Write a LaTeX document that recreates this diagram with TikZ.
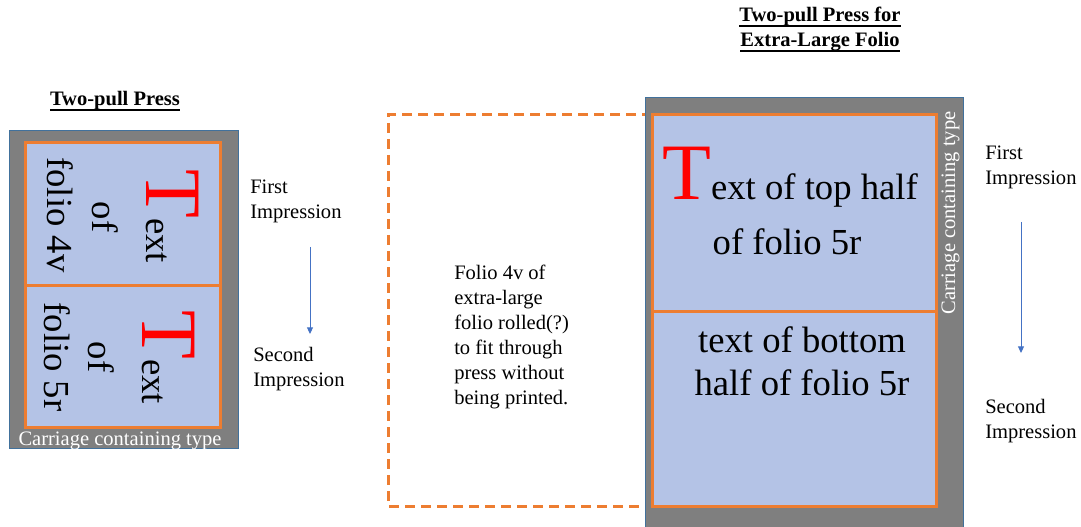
\documentclass[tikz,border=0pt]{standalone}
\usepackage{fontspec}
\setmainfont{Liberation Serif}
\usetikzlibrary{arrows.meta}
\definecolor{cgray}{HTML}{7F7F7F}
\definecolor{cborder}{HTML}{41719C}
\definecolor{cblue}{HTML}{B4C3E6}
\definecolor{corange}{HTML}{ED7D31}
\definecolor{carrow}{HTML}{4472C4}
\definecolor{cred}{HTML}{FF0000}
\newcommand\dropT{{\fontsize{60}{60}\selectfont\color{cred}T}}
\newcommand\ulbox[1]{\setbox0=\hbox{#1}\rlap{\rule[-3.8pt]{\wd0}{1.3pt}}\box0}
\begin{document}
\begin{tikzpicture}[x=0.75pt,y=-0.75pt,
  lbl/.style={inner sep=0pt, font=\fontsize{15.4}{18.75}\selectfont},
  ttl/.style={inner sep=0pt, font=\fontsize{15.4}{18.75}\selectfont\bfseries},
  bigtxt/.style={inner sep=0pt, font=\fontsize{27.5}{33}\selectfont},
  carriage/.style={fill=cgray, draw=cborder, line width=0.75pt},
  pagebox/.style={fill=cblue, draw=corange, line width=2.25pt},
  rolled/.style={draw=corange, line width=2.25pt, dash pattern=on 7.5pt off 4.5pt},
  flow/.style={draw=carrow, line width=0.75pt, -{Triangle[length=5pt,width=4.5pt]}},
  ctext/.style={inner sep=0pt, text=white, font=\fontsize{15.4}{18.75}\selectfont},
]
\useasboundingbox (0,0) rectangle (1081,527);
% ---------- left press ----------
\node[ttl, anchor=base] (t1) at (115,106) {\ulbox{Two-pull Press}};
\draw[carriage] (9,131) rectangle (238,448);
\draw[pagebox] (25,143) rectangle (220,285);
\draw[pagebox] (25,285) rectangle (220,427);
\node[bigtxt, rotate=-90, anchor=base] (l1a) at (146,216) {\dropT ext};
\node[bigtxt, rotate=-90, anchor=base] (l1b) at (92,217) {of};
\node[bigtxt, rotate=-90, anchor=base] (l1c) at (47,215) {folio 4v};
\node[bigtxt, rotate=-90, anchor=base] (l2a) at (142,357) {\dropT ext};
\node[bigtxt, rotate=-90, anchor=base] (l2b) at (88,357) {of};
\node[bigtxt, rotate=-90, anchor=base] (l2c) at (44,357) {folio 5r};
\node[ctext, anchor=base] (lc) at (120,445) {Carriage containing type};
\node[lbl, anchor=base west] (lf1) at (250,194) {First};
\node[lbl, anchor=base west] (lf2) at (250,219) {Impression};
\node[lbl, anchor=base west] (ls1) at (253,361) {Second};
\node[lbl, anchor=base west] (ls2) at (253,386) {Impression};
\coordinate (la1) at (310,247);
\coordinate (la2) at (310,334);
\draw[flow] (la1) -- (la2);
% ---------- middle: rolled folio ----------
\draw[rolled] (652,115) -- (388,115) -- (388,506) -- (652,506);
\node[lbl, anchor=base west] (m1) at (454,279) {Folio 4v of};
\node[lbl, anchor=base west] (m2) at (454,304) {extra-large};
\node[lbl, anchor=base west] (m3) at (454,329) {folio rolled(?)};
\node[lbl, anchor=base west] (m4) at (454,354) {to fit through};
\node[lbl, anchor=base west] (m5) at (454,379) {press without};
\node[lbl, anchor=base west] (m6) at (454,404) {being printed.};
% ---------- right press ----------
\node[ttl, anchor=base] (t2a) at (820,22) {\ulbox{Two-pull Press for}};
\node[ttl, anchor=base] (t2b) at (820,47) {\ulbox{Extra-Large Folio}};
\draw[carriage] (645,98) rectangle (963,530);
\draw[pagebox] (652,115) rectangle (936,311);
\draw[pagebox] (652,311) rectangle (936,506);
\node[bigtxt, anchor=base] (r1a) at (790,200) {\dropT ext of top half};
\node[bigtxt, anchor=base] (r1b) at (787,255) {of folio 5r};
\node[bigtxt, anchor=base] (r2a) at (802,352) {text of bottom};
\node[bigtxt, anchor=base] (r2b) at (802,395) {half of folio 5r};
\node[ctext, rotate=90, anchor=base] (rc) at (955,213) {Carriage containing type};
\node[lbl, anchor=base west] (rf1) at (985,160) {First};
\node[lbl, anchor=base west] (rf2) at (985,185) {Impression};
\node[lbl, anchor=base west] (rs1) at (985,413) {Second};
\node[lbl, anchor=base west] (rs2) at (985,438) {Impression};
\coordinate (ra1) at (1021,222);
\coordinate (ra2) at (1021,353);
\draw[flow] (ra1) -- (ra2);
\end{tikzpicture}
\end{document}
